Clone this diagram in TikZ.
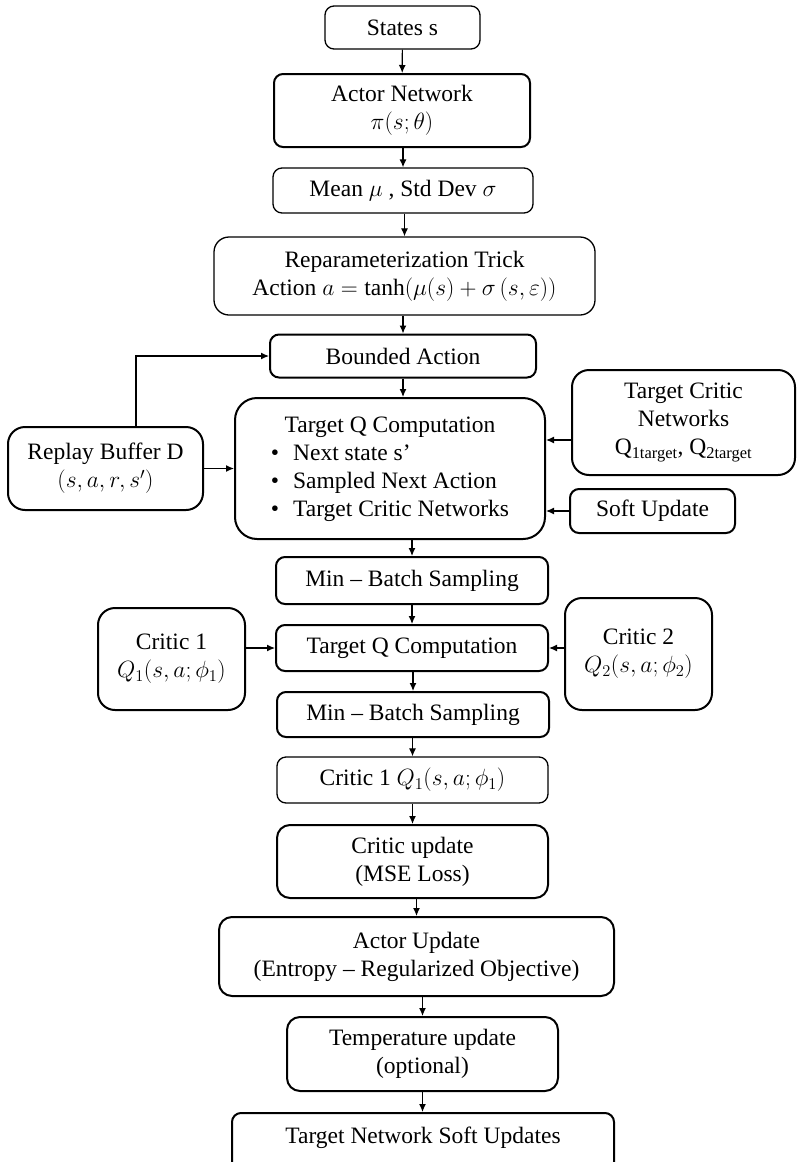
\RequirePackage{fix-cm}
\documentclass[tikz,border=0pt]{standalone}
\usepackage{fontspec}
\setmainfont{Liberation Serif}
\usetikzlibrary{arrows.meta}

\begin{document}
\begin{tikzpicture}[x=1pt,y=-1pt, every node/.style={draw,rounded corners=9pt,align=center,inner sep=0pt,font=\fontsize{23.5}{28}\selectfont}, thin box/.style={line width=1.3pt}, thick box/.style={line width=2pt}, big box/.style={thick box,rounded corners=17pt}, arr/.style={-{Latex[length=8pt,width=7pt]},line width=1.2pt}]
\useasboundingbox (0,0) rectangle (797,1162);
\node[thin box,minimum width=155pt,minimum height=43pt] (states) at (402.5,27.5) {States s};
\node[thick box,minimum width=256pt,minimum height=73pt] (actor) at (402,110.5) {Actor Network\\$\pi(s;\theta)$};
\node[thin box,minimum width=260pt,minimum height=45pt] (mean) at (403,190.5) {Mean $\mu$ , Std Dev $\sigma$};
\node[thin box,minimum width=381pt,minimum height=78pt,rounded corners=15pt] (reparam) at (404.5,276) {Reparameterization Trick\\Action $a=\tanh\bigl(\mu(s)+\sigma\,(s,\varepsilon)\bigr)$};
\node[thick box,minimum width=266pt,minimum height=43pt] (bounded) at (403,356) {Bounded Action};
\node[big box,minimum width=310pt,minimum height=141pt,rounded corners=22pt] (tq) at (390,468.5) {\begin{tabular}{@{}l@{}}\multicolumn{1}{@{}c@{}}{Target Q Computation}\\ \textbullet\hspace{14pt}Next state s’\\ \textbullet\hspace{14pt}Sampled Next Action\\ \textbullet\hspace{14pt}Target Critic Networks\end{tabular}};
\node[big box,minimum width=195pt,minimum height=83pt] (replay) at (105.5,468.5) {Replay Buffer D\\$(s,a,r,s')$};
\node[big box,minimum width=223pt,minimum height=105pt] (tcritic) at (683.5,422.5) {Target Critic\\Networks\\Q\textsubscript{1target}, Q\textsubscript{2target}};
\node[thick box,minimum width=165pt,minimum height=44pt] (soft) at (652.5,511) {Soft Update};
\node[thick box,minimum width=272pt,minimum height=47pt] (mbA) at (412,580.5) {Min – Batch Sampling};
\node[big box,minimum width=147pt,minimum height=102pt] (critA) at (171.5,659) {Critic 1\\$Q_1(s,a;\phi_1)$};
\node[thick box,minimum width=272pt,minimum height=46pt] (tqB) at (412,648) {Target Q Computation};
\node[big box,minimum width=147pt,minimum height=112pt] (critB) at (638.5,654) {Critic 2\\$Q_2(s,a;\phi_2)$};
\node[thick box,minimum width=272pt,minimum height=45pt] (mbB) at (413,714.5) {Min – Batch Sampling};
\node[thin box,minimum width=271pt,minimum height=46pt] (qone) at (412.5,780) {Critic 1 $Q_1(s,a;\phi_1)$};
\node[thick box,minimum width=271pt,minimum height=73pt,rounded corners=13pt] (cupd) at (412.5,861.5) {Critic update\\(MSE Loss)};
\node[thick box,minimum width=395pt,minimum height=79pt,rounded corners=13pt] (aupd) at (416.5,956.5) {Actor Update\\(Entropy – Regularized Objective)};
\node[thick box,minimum width=271pt,minimum height=74pt,rounded corners=13pt] (temp) at (422.5,1054) {Temperature update\\(optional)};
\node[thick box,minimum width=382pt,anchor=north,text height=30pt,text depth=28pt] (tnsu) at (423,1112) {Target Network Soft Updates};
% main column
\draw[arr] (states) -- (actor);
\draw[arr] (actor.south -| mean.north) -- (mean.north);
\draw[arr] (mean.south -| reparam.north) -- (reparam.north);
\draw[arr] (reparam.south -| bounded.north) -- (bounded.north);
\draw[arr] (bounded.south) -- (bounded.south |- tq.north);
\draw[arr] (tq.south -| mbA.north) -- (mbA.north);
\draw[arr] (mbA) -- (tqB);
\draw[arr] (tqB.south -| mbB.north) -- (mbB.north);
\draw[arr] (mbB.south -| qone.north) -- (qone.north);
\draw[arr] (qone) -- (cupd);
\draw[arr] (cupd.south -| aupd.north) -- (aupd.north);
\draw[arr] (aupd.south -| temp.north) -- (temp.north);
\draw[arr] (temp) -- (temp |- tnsu.north);
% side inputs
\draw[arr] ([xshift=30.5pt]replay.north) |- (bounded.west);
\draw[arr] (replay) -- (tq);
\coordinate (tcin) at ([yshift=-17.5pt]tcritic.west);
\draw[arr] (tcin) -- (tcin -| tq.east);
\draw[arr] (soft) -- (soft -| tq.east);
\draw[arr] (critA.east |- tqB) -- (tqB);
\draw[arr] (critB.west |- tqB) -- (tqB);
\end{tikzpicture}
\end{document}
